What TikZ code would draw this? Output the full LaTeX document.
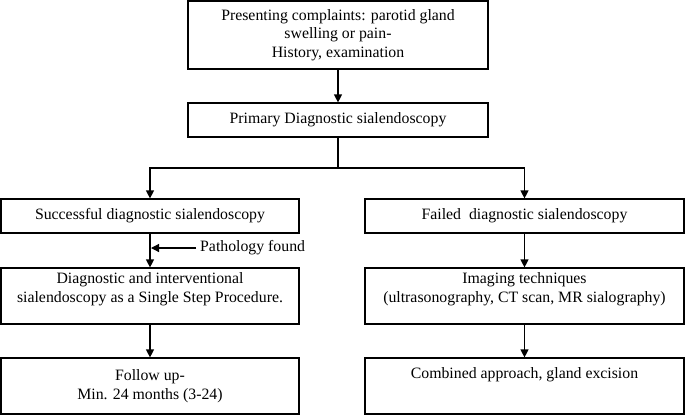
\documentclass[tikz,border=0pt]{standalone}
\usepackage{fontspec}
\setmainfont{Liberation Serif}
\usetikzlibrary{arrows.meta}
\begin{document}
\begin{tikzpicture}[x=1pt,y=-1pt,
  box/.style={draw,line width=1.2pt,align=center,inner sep=0pt,
    font=\fontsize{15.8}{18.5}\selectfont},
  arr/.style={line width=1.2pt,-{Triangle[length=8pt,width=8pt]}},
  ln/.style={line width=1.2pt},
  lbl/.style={font=\fontsize{15.8}{18.5}\selectfont,inner sep=0pt}]
\useasboundingbox (0,0) rectangle (685,416);
\node[box,minimum width=300,minimum height=68] (b1) at (338,35)
  {Presenting complaints: parotid gland\\swelling or pain-\\History, examination};
\node[box,minimum width=300,minimum height=34] (b2) at (338,120)
  {Primary Diagnostic sialendoscopy};
\node[box,minimum width=298,minimum height=34] (l1) at (150,216)
  {Successful diagnostic sialendoscopy};
\node[box,minimum width=319,minimum height=34] (r1) at (524.5,216)
  {Failed\ \ diagnostic sialendoscopy};
\node[box,minimum width=298,minimum height=56] (l2) at (150,296)
  {Diagnostic and interventional\\sialendoscopy as a Single Step Procedure.\\[-7pt]\strut};
\node[box,minimum width=319,minimum height=56] (r2) at (524.5,296)
  {Imaging techniques\\(ultrasonography, CT scan, MR sialography)\\[-7pt]\strut};
\node[box,minimum width=298,minimum height=56] (l3) at (150,386)
  {Follow up-\\Min. 24 months (3-24)};
\node[box,minimum width=319,minimum height=56] (r3) at (524.5,386)
  {Combined approach, gland excision\\[2pt]\strut};
\coordinate (j) at (338,168);
\draw[arr] (b1) -- (b2);
\draw[ln] (b2.south) -- (j);
\draw[arr] (j) -| (l1.north);
\draw[arr] (j) -| (r1.north);
\draw[arr] (l1) -- (l2);
\draw[arr] (r1) -- (r2);
\draw[arr] (l2) -- (l3);
\draw[arr] (r2) -- (r3);
\coordinate (p) at (196,248);
\coordinate (pt) at (151,248);
\draw[arr] (p) -- (pt);
\node[lbl,anchor=west] (pf) at (200,248) {Pathology found};
\end{tikzpicture}
\end{document}
